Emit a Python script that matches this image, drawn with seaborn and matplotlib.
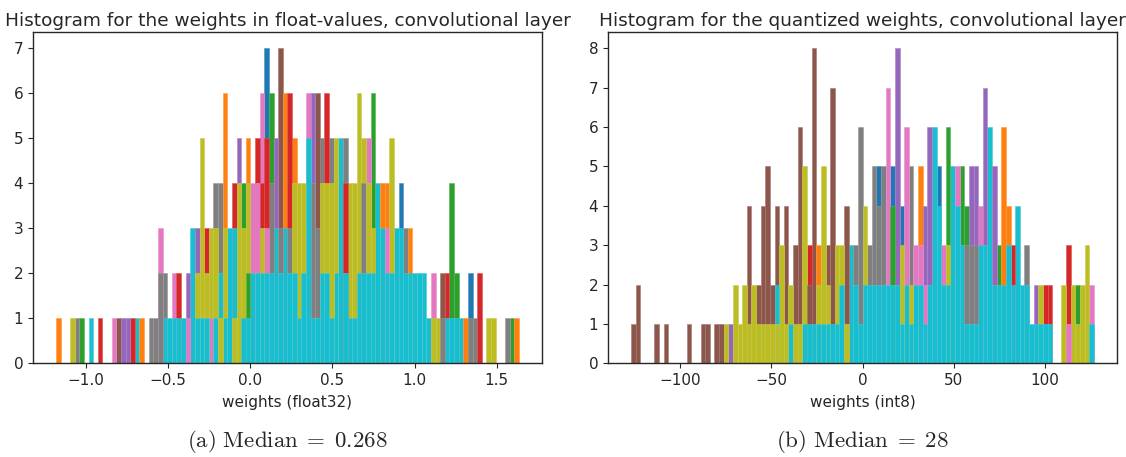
import numpy as np
import pandas as pd
import matplotlib
matplotlib.use("Agg")
import matplotlib.pyplot as plt
from matplotlib.colors import to_rgb
import seaborn as sns

# Colour codes used in the bin stacks (tab10 order)
CODES = {"b": "#1f77b4", "o": "#ff7f0e", "g": "#2ca02c", "r": "#d62728",
         "v": "#9467bd", "n": "#8c564b", "p": "#e377c2", "k": "#7f7f7f",
         "y": "#bcbd22", "c": "#17becf"}

# Float weights: 100 bins, each entry lists the visible colour per count level (bottom -> top)
float_range = [-1.18, 1.634]
float_stacks = [
    "o", "", "", "y", "k", "g", "", "c", "", "r",
    "", "", "p", "n", "v", "v", "r", "c", "o", "",
    "k", "k", "kkp", "ck", "c", "cp", "cr", "c", "pv", "ccc",
    "cyv", "cyyyy", "cyr", "pyy", "cyyk", "yckk", "cyyooo", "ccc", "yccr", "yyyyv",
    "cyyg", "cgyyo", "ccpp", "ccppr", "ccyrpp", "ccprrbb", "cckkgg", "cccvv", "ccknnnn", "cccooo",
    "cckrrr", "ccyyo", "cyyy", "ccyy", "cccccp", "ckkkvv", "ckknnn", "ccyyk", "ccyyrr", "cyyyk",
    "ccyyy", "ccccc", "ccrrk", "cyyy", "cyyy", "ccyyyy", "cckky", "ccyyp", "ccyggg", "cccc",
    "ccco", "ccpo", "ccyyy", "ccc", "cccb", "cck", "cco", "cc", "cc", "cc",
    "c", "yp", "y", "kn", "cr", "cggg", "cg", "c", "o", "kb",
    "k", "rr", "", "y", "y", "", "", "k", "g", "o",
]

# Quantized (int8) weights
int_range = [-127, 127]
int_stacks = [
    "n", "nn", "", "", "", "n", "", "n", "", "",
    "", "", "n", "", "", "n", "n", "", "n", "n",
    "y", "v", "yy", "y", "yy", "ynnn", "yy", "yn", "ynnn", "ynnnn",
    "yn", "ycnn", "yyy", "ynnn", "cy", "ynn", "ynnnnn", "cyyyy", "cnr", "cnnnnnnn",
    "cyo", "cyyyy", "cyn", "cnnnnnn", "cyy", "ccy", "ynnn", "ccc", "cck", "ckkkkk",
    "ccyy", "cck", "cckkk", "cckkb", "cckkk", "ccppppp", "ccggb", "ccvvvvvv", "cyyb", "ccpppp",
    "cykkk", "ccp", "ccpoo", "cpvv", "ccvvvv", "cccccc", "ccccb", "ccp", "ccyggg", "ccccc",
    "ccccp", "cccgg", "ckkg", "ckkvv", "ckkvv", "cccp", "cccvvvv", "cccccc", "ccvvv", "ccg",
    "ccoooo", "ccco", "ccr", "cccc", "cc", "cck", "c", "cv", "cy", "cr",
    "cr", "", "", "yy", "prr", "yy", "yg", "yy", "yyy", "cp",
]

titles = ["Histogram for the weights in float-values, convolutional layer",
          "Histogram for the quantized weights, convolutional layer"]
xlabels = ["weights (float32)", "weights (int8)"]
captions = [r"$\mathrm{(a)\ Median}\;=\;0.268$", r"$\mathrm{(b)\ Median}\;=\;28$"]


def layered_table(stacks, lo, hi):
    edges = np.linspace(lo, hi, len(stacks) + 1)
    centers = (edges[:-1] + edges[1:]) / 2
    rows = []
    for i, s in enumerate(stacks):
        runs = []
        for j, ch in enumerate(s):
            if j + 1 == len(s) or s[j + 1] != ch:
                runs.append((j + 1, ch))
        # tallest run first, shorter runs painted over it
        for rank, (top, ch) in enumerate(sorted(runs, reverse=True)):
            rows.append((centers[i], top, ch, rank))
    return pd.DataFrame(rows, columns=["x", "count", "code", "rank"])


def lighter(color, amount=0.2):
    rgb = np.array(to_rgb(color))
    return tuple(rgb + (1 - rgb) * amount)


def draw(ax, stacks, rng):
    df = layered_table(stacks, *rng)
    for (rank, code), g in df.groupby(["rank", "code"], sort=True):
        sns.histplot(data=g, x="x", weights="count", bins=len(stacks),
                     binrange=(rng[0], rng[1]),
                     color=CODES[code], alpha=1.0, linewidth=0.4,
                     edgecolor=lighter(CODES[code]), ax=ax)
    span = rng[1] - rng[0]
    ax.set_xlim(rng[0] - 0.05 * span, rng[1] + 0.05 * span)


sns.set_style("ticks")
plt.rcParams.update({
    "mathtext.fontset": "cm",
    "axes.edgecolor": "#262626",
    "axes.linewidth": 1.0,
    "xtick.color": "#262626",
    "ytick.color": "#262626",
    "xtick.labelsize": 11,
    "ytick.labelsize": 11,
})

fig = plt.figure(figsize=(11.26, 4.57), dpi=100)
ax1 = fig.add_axes([0.0293, 0.2046, 0.452, 0.7243])
ax2 = fig.add_axes([0.540, 0.2046, 0.452, 0.7243])

for ax, stacks, rng, title, xl, cap in zip(
        [ax1, ax2], [float_stacks, int_stacks], [float_range, int_range],
        titles, xlabels, captions):
    draw(ax, stacks, rng)
    ax.set_title(title, fontsize=13.3, pad=5)
    ax.set_xlabel(xl, fontsize=11, labelpad=5)
    ax.set_ylabel("")
    ax.tick_params(length=3.5, width=0.8)
    ax.text(0.5, -0.235, cap, transform=ax.transAxes, ha="center",
            va="center", fontsize=16.5)

ax1.set_ylim(0, 7.35)
ax2.set_ylim(0, 8.4)
ax1.set_xticks([-1.0, -0.5, 0.0, 0.5, 1.0, 1.5])
ax2.set_xticks([-100, -50, 0, 50, 100])

fig.savefig("out.png", dpi=100)
